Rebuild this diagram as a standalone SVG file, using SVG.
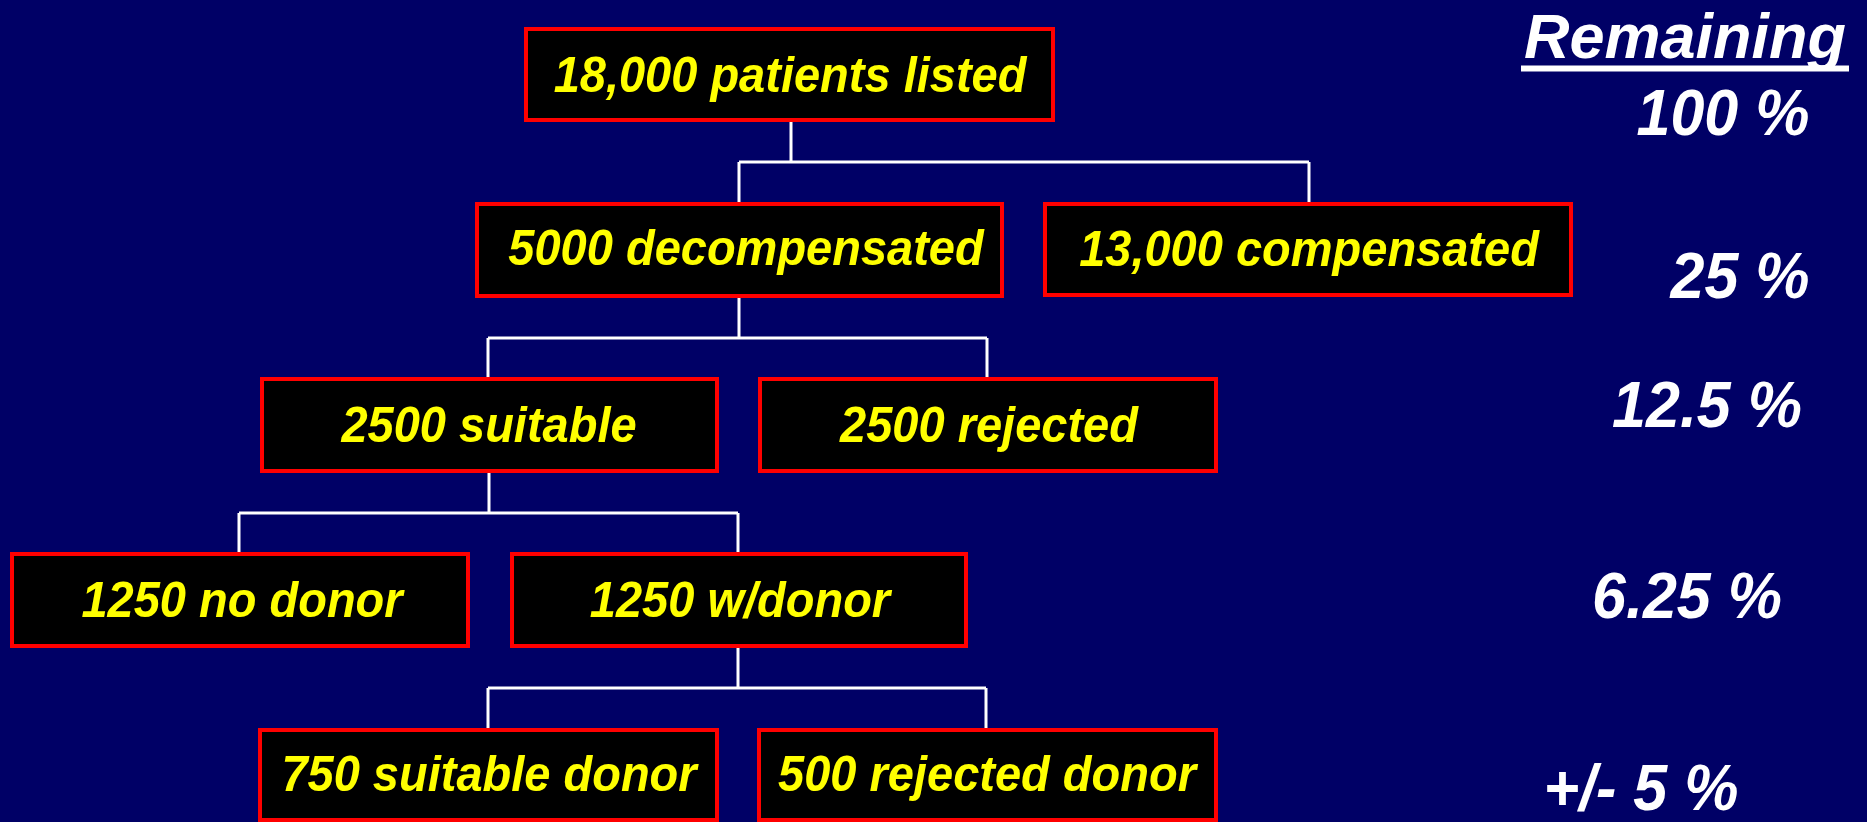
<svg xmlns="http://www.w3.org/2000/svg" width="1867" height="822" viewBox="0 0 1867 822">
<style>
.box rect{fill:#000000;stroke:#ff0000;stroke-width:4}
.box text{fill:#ffff00;font-family:"Liberation Sans",Arial,sans-serif;font-weight:bold;font-style:italic;font-size:47px;text-anchor:middle}
.pct{fill:#ffffff;font-family:"Liberation Sans",Arial,sans-serif;font-weight:bold;font-style:italic;font-size:61px;text-anchor:middle}
#connectors path{fill:none;stroke:#ffffff;stroke-width:3}
</style>
<rect x="0" y="0" width="1867" height="822" fill="#000066"/>
<g id="connectors">
<path d="M791,122 V162 M739,162 H1309 M739,162 V202 M1309,162 V202"/>
<path d="M739,298 V338 M488,338 H987 M488,338 V377 M987,338 V377"/>
<path d="M489,473 V513 M239,513 H738 M239,513 V552 M738,513 V552"/>
<path d="M738,648 V688 M488,688 H986 M488,688 V728 M986,688 V728"/>
</g>
<g id="n1" class="box"><rect x="526" y="29" width="527" height="91"/><text transform="translate(790,92) scale(1,1.06)">18,000 patients listed</text></g>
<g id="n2" class="box"><rect x="477" y="204" width="525" height="92"/><text transform="translate(746,265) scale(1,1.06)">5000 decompensated</text></g>
<g id="n3" class="box"><rect x="1045" y="204" width="526" height="91"/><text transform="translate(1309,266) scale(1,1.06)">13,000 compensated</text></g>
<g id="n4" class="box"><rect x="262" y="379" width="455" height="92"/><text transform="translate(489,442) scale(1,1.06)">2500 suitable</text></g>
<g id="n5" class="box"><rect x="760" y="379" width="456" height="92"/><text transform="translate(989,442) scale(1,1.06)">2500 rejected</text></g>
<g id="n6" class="box"><rect x="12" y="554" width="456" height="92"/><text transform="translate(242,617) scale(1,1.06)">1250 no donor</text></g>
<g id="n7" class="box"><rect x="512" y="554" width="454" height="92"/><text transform="translate(740,617) scale(1,1.06)">1250 w/donor</text></g>
<g id="n8" class="box"><rect x="260" y="730" width="457" height="90"/><text transform="translate(489,791) scale(1,1.06)">750 suitable donor</text></g>
<g id="n9" class="box"><rect x="759" y="730" width="457" height="90"/><text transform="translate(987,791) scale(1,1.06)">500 rejected donor</text></g>
<g id="remaining">
<text class="pct" x="1685" y="58" style="font-size:63px">Remaining</text>
<line x1="1521" y1="68.5" x2="1849" y2="68.5" stroke="#ffffff" stroke-width="6"/>
<text class="pct" transform="translate(1723,135) scale(1,1.05)">100 %</text>
<text class="pct" transform="translate(1740,298) scale(1,1.05)">25 %</text>
<text class="pct" transform="translate(1707,427) scale(1,1.05)">12.5 %</text>
<text class="pct" transform="translate(1687,618) scale(1,1.05)">6.25 %</text>
<text class="pct" transform="translate(1641,810) scale(1,1.05)">+/- 5 %</text>
</g>
</svg>
